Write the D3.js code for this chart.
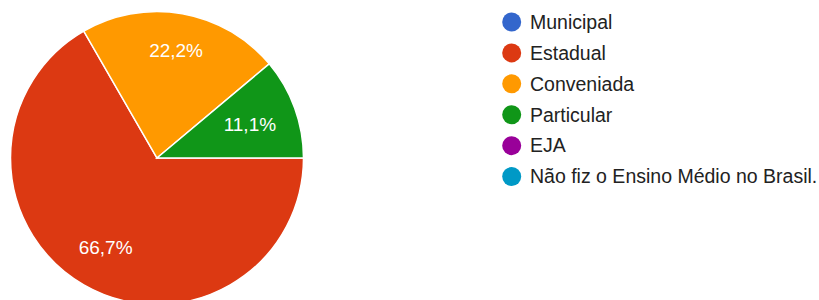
<!DOCTYPE html>
<html>
<head>
<meta charset="utf-8">
<script src="https://cdn.jsdelivr.net/npm/d3@7"></script>
<style>
  html, body { margin: 0; padding: 0; background: #fff; }
  svg { display: block; }
</style>
</head>
<body>
<svg id="chart" width="819" height="300"></svg>
<script>
const categories = ["Municipal", "Estadual", "Conveniada", "Particular", "EJA", "Não fiz o Ensino Médio no Brasil."];
const values = [0, 6, 2, 1, 0, 0];
const colors = ["#3366cc", "#dc3912", "#ff9900", "#109618", "#990099", "#0099c6"];

const svg = d3.select("#chart");
const cx = 157, cy = 158, r = 146.5;
const font = "'Liberation Sans', Arial, sans-serif";

const data = categories.map((c, i) => ({ name: c, value: values[i], color: colors[i] }));
const total = d3.sum(values);

const pie = d3.pie().value(d => d.value).sort(null)
  .startAngle(Math.PI / 2).endAngle(Math.PI / 2 + 2 * Math.PI);
const arcs = pie(data).filter(a => a.data.value > 0);
const arc = d3.arc().innerRadius(0).outerRadius(r);

const g = svg.append("g").attr("transform", `translate(${cx},${cy})`);
g.selectAll("path").data(arcs).join("path")
  .attr("d", arc)
  .attr("fill", d => d.data.color)
  .attr("stroke", "#fff")
  .attr("stroke-width", 1.5);

const fmt = v => (v / total * 100).toFixed(1).replace(".", ",") + "%";
const labels = g.selectAll("text").data(arcs).join("text")
  .attr("text-anchor", "middle")
  .attr("dy", "0.36em")
  .attr("fill", "#fff")
  .attr("font-family", font)
  .attr("font-size", 19)
  .text(d => fmt(d.data.value));

// place each label along the slice bisector so its box sits inside the slice
labels.each(function(d) {
  const bb = this.getBBox();
  const hw = bb.width / 2, hh = 14;
  const a = (d.startAngle + d.endAngle) / 2;
  const ux = Math.sin(a), uy = -Math.cos(a);
  const proj = hw * Math.abs(ux) + hh * Math.abs(uy);
  const dist = r * 0.876 - proj;
  d3.select(this).attr("transform", `translate(${ux * dist},${uy * dist})`);
});

const legendY = d3.scaleBand().domain(categories).range([6.5, 192]);
const lg = svg.append("g");
const items = lg.selectAll("g").data(data).join("g")
  .attr("transform", d => `translate(0,${legendY(d.name) + legendY.bandwidth() / 2})`);
items.append("circle").attr("cx", 511.7).attr("cy", 0).attr("r", 9.5).attr("fill", d => d.color);
items.append("text").attr("x", 530).attr("y", 0).attr("dy", "0.35em")
  .attr("font-family", font).attr("font-size", 19.5).attr("fill", "#222")
  .text(d => d.name);
</script>
</body>
</html>
